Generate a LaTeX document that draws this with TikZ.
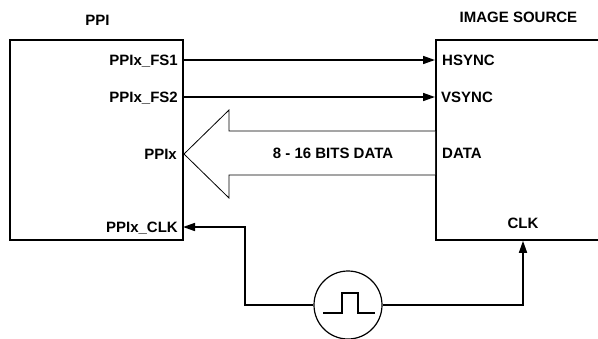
\documentclass[tikz,border=0pt]{standalone}
\usepackage{fontspec}
\setmainfont{Liberation Sans}
\usetikzlibrary{arrows.meta}

\begin{document}
\begin{tikzpicture}[x=1pt, y=-1pt, >={Triangle[length=12pt,width=8pt]},
  every node/.style={font=\fontsize{15}{17}\selectfont\bfseries, text height=10.7pt, text depth=0pt},
  block/.style={draw, line width=1.6pt, minimum height=200pt, inner sep=0pt},
  pin/.style={inner sep=5pt},
  wire/.style={line width=1.6pt},
  bus/.style={line width=0.8pt, fill=white}]
\useasboundingbox (0,0) rectangle (598,338);
\node (ppi) [block, minimum width=173pt] at (96.5,140) {};
\node (src) [block, minimum width=166pt, anchor=west] at (435,140) {};
\node (ppititle) at (97.5,20) {PPI};
\node (srctitle) at (518.5,17.5) {IMAGE SOURCE};
\node (fs1) [pin, anchor=east] at (183,60) {PPIx\_FS1};
\node (fs2) [pin, anchor=east] at (183,97) {PPIx\_FS2};
\node (ppix) [pin, anchor=east, inner sep=7pt] at (184,154) {PPIx};
\node (ppiclk) [pin, anchor=east] at (183,227) {PPIx\_CLK};
\node (hsync) [pin, anchor=west, inner sep=7pt] at (435,60) {HSYNC};
\node (vsync) [pin, anchor=west, inner sep=6pt] at (435,97) {VSYNC};
\node (data) [pin, anchor=west, inner sep=7pt] at (435,153) {DATA};
\node (clk) at (523,223.5) {CLK};
\node (osc) [draw, circle, minimum size=68pt, inner sep=0pt, line width=1.2pt] at (348,305) {};
\draw[wire,->] (fs1.east) -- (hsync.west);
\draw[wire,->] (fs2.east) -- (vsync.west);
\draw[bus] (435,131) -- (229,131) -- (229,110) -- (ppix.east) -- (229,198) -- (229,175) -- (435,175);
\node (bits) at (333,153) {8 - 16 BITS DATA};
\draw[wire,->] (osc.west) -| ([xshift=62pt]ppiclk.east) -- (ppiclk.east);
\draw[wire,->] (osc.east) -| (clk |- src.south);
\draw[wire] ([shift={(-25,8)}]osc.center) -- ++(19,0) -- ++(0,-20) -- ++(16,0) -- ++(0,20) -- ++(17,0);
\end{tikzpicture}
\end{document}
